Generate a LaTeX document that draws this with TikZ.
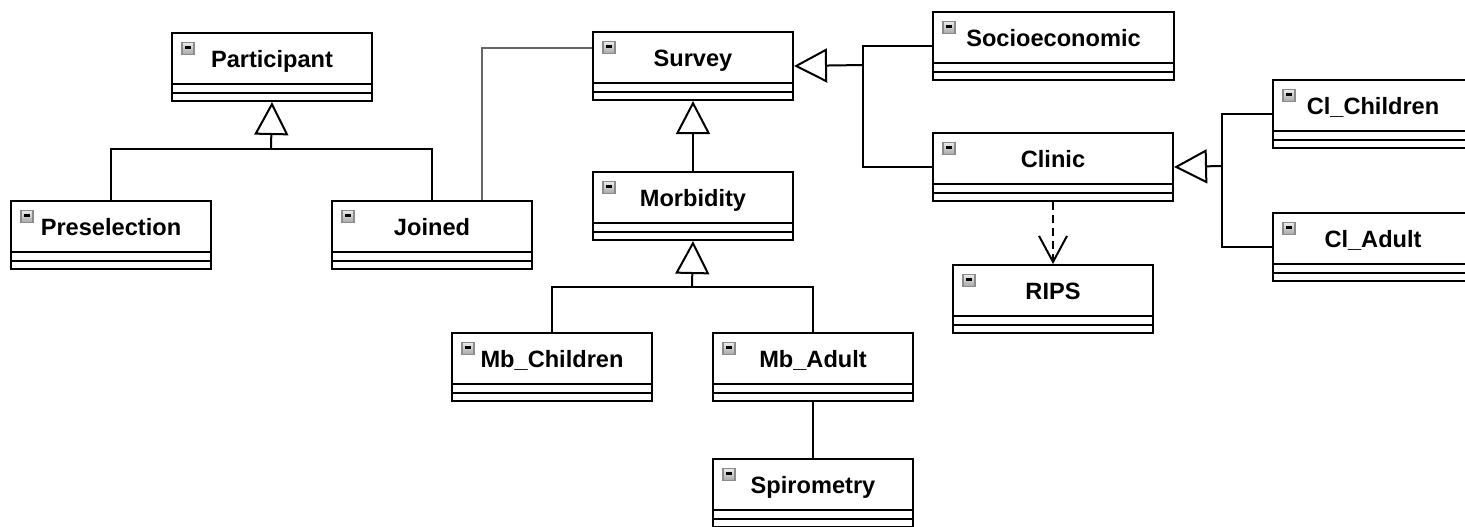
\documentclass[tikz,border=0pt]{standalone}
\usepackage{fontspec}
\setmainfont{Liberation Sans}
\usetikzlibrary{arrows.meta}

\begin{document}
\begin{tikzpicture}[x=0.5pt,y=-0.5pt,line width=1pt,
  gen/.style={-{Triangle[open,length=16.5pt,width=17pt]}},
  dep/.style={dash pattern=on 4pt off 2.5pt,-{Straight Barb[length=13pt,width=14pt]}},
  assoc/.style={draw=black!60}]
  \tikzset{umlclass/.style={draw,anchor=north west,minimum width=100pt,inner ysep=0pt,
      text height=17pt,text depth=17pt,font=\bfseries\fontsize{11.8}{14}\selectfont,
      path picture={
        \draw ([yshift=-25.5pt]path picture bounding box.north west) -- ([yshift=-25.5pt]path picture bounding box.north east);
        \draw ([yshift=-29.75pt]path picture bounding box.north west) -- ([yshift=-29.75pt]path picture bounding box.north east);
        \draw[line width=0.6pt,draw=black!45,top color=black!8,bottom color=black!35]
          ([shift={(5pt,-4.8pt)}]path picture bounding box.north west) rectangle +(6pt,-6pt);
        \draw[line width=1.1pt] ([shift={(6.5pt,-7.2pt)}]path picture bounding box.north west) -- +(3pt,0);
      }}}
  \useasboundingbox (0,0) rectangle (1465,526);
  \node[umlclass] (Participant)   at (171,32)  {Participant};
  \node[umlclass] (Preselection)  at (10,200)  {Preselection};
  \node[umlclass] (Joined)        at (331,200) {Joined};
  \node[umlclass] (Survey)        at (592,31)  {Survey};
  \node[umlclass] (Morbidity)     at (592,171) {Morbidity};
  \node[umlclass] (MbChildren)    at (451,332) {Mb\_Children};
  \node[umlclass] (MbAdult)       at (712,332) {Mb\_Adult};
  \node[umlclass] (Spirometry)    at (712,458) {Spirometry};
  \node[umlclass,minimum width=120.5pt] (Socioeconomic) at (932,11) {Socioeconomic};
  \node[umlclass,minimum width=120pt] (Clinic) at (932,132) {Clinic};
  \node[umlclass] (RIPS)          at (952,264) {RIPS};
  \node[umlclass] (ClChildren)    at (1272,79) {Cl\_Children};
  \node[umlclass] (ClAdult)       at (1272,212) {Cl\_Adult};
  \coordinate (partj) at (271,149);
  \coordinate (joinbend) at (482,48);
  \coordinate (morbj) at (692,287);
  \coordinate (survj) at (863,65);
  \coordinate (clinj) at (1222,166);
  \draw (Preselection.north) |- (partj) -| (Joined.north);
  \draw[gen] (partj) -- (Participant.south);
  \draw[assoc] (Joined.north -| joinbend) -- (joinbend) -- (joinbend -| Survey.west);
  \draw[gen] (Morbidity.north) -- (Survey.south);
  \draw (MbChildren.north) |- (morbj) -| (MbAdult.north);
  \draw[gen] (morbj) -- (Morbidity.south);
  \draw (MbAdult.south) -- (Spirometry.north);
  \draw (Socioeconomic.west) -| (survj) |- (Clinic.west);
  \draw[gen] (survj) -- (Survey.east);
  \draw (ClChildren.west) -| (clinj) |- (ClAdult.west);
  \draw[gen] (clinj) -- (Clinic.east);
  \draw[dep] (Clinic.south) -- (RIPS.north);
\end{tikzpicture}
\end{document}
